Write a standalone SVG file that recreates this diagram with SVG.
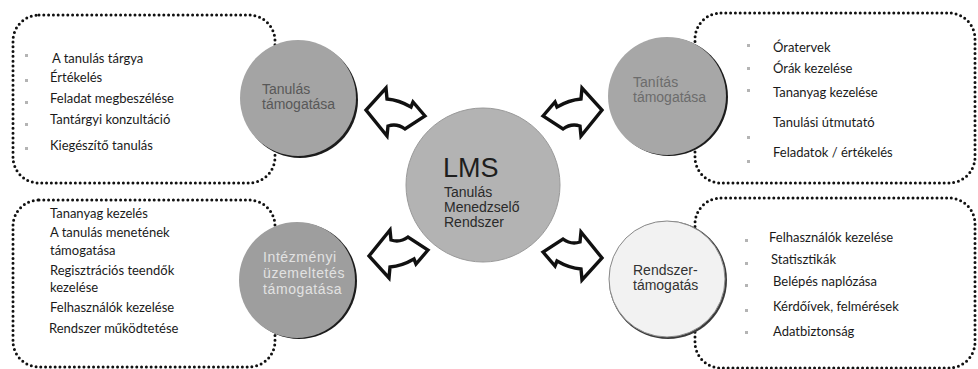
<svg xmlns="http://www.w3.org/2000/svg" width="978" height="369" viewBox="0 0 978 369">
<style>
.box{fill:none;stroke:#111;stroke-width:3;stroke-dasharray:0 4.8;stroke-linecap:round}
.li{font-family:Lato,"Liberation Sans",sans-serif;font-size:13px;fill:#1a1a1a}
.bul{fill:#b4b4b4}
.cl{font-family:"Liberation Sans",Arial,sans-serif;font-size:14px}
.shadow{fill:#1c1c1c}
.arrow{fill:#fff;stroke:#111;stroke-width:3.4;stroke-linejoin:miter}
</style>
<defs>
<path id="arr" d="M0,28 L12,14 L14,19 Q26,12 38,11 L39,0 L59,22 L38,48 L37,38 Q28,35 20,41 Z"/>
</defs>
<rect width="978" height="369" fill="#fff"/>

<g id="box-tanulas">
<rect class="box" x="13" y="15" width="262" height="168" rx="26"/>
<rect class="bul" x="25" y="54" width="3" height="3"/>
<rect class="bul" x="25" y="79" width="3" height="3"/>
<rect class="bul" x="25" y="101" width="3" height="3"/>
<rect class="bul" x="25" y="123" width="3" height="3"/>
<rect class="bul" x="25" y="147" width="3" height="3"/>
<text class="li" x="52" y="63">A tanulás tárgya</text>
<text class="li" x="50" y="82">Értékelés</text>
<text class="li" x="50" y="103">Feladat megbeszélése</text>
<text class="li" x="50" y="124">Tantárgyi konzultáció</text>
<text class="li" x="50" y="150">Kiegészítő tanulás</text>
</g>

<g id="box-intezmenyi">
<rect class="box" x="13" y="200" width="262" height="167" rx="26"/>
<text class="li" x="50" y="218">Tananyag kezelés</text>
<text class="li" x="50" y="237">A tanulás menetének</text>
<text class="li" x="50" y="255">támogatása</text>
<text class="li" x="50" y="275">Regisztrációs teendők</text>
<text class="li" x="50" y="292">kezelése</text>
<text class="li" x="50" y="312">Felhasználók kezelése</text>
<text class="li" x="49" y="333">Rendszer működtetése</text>
</g>

<g id="box-tanitas">
<rect class="box" x="695" y="13" width="280" height="170" rx="26"/>
<rect class="bul" x="747" y="44" width="3" height="3"/>
<rect class="bul" x="747" y="67" width="3" height="3"/>
<rect class="bul" x="747" y="89" width="3" height="3"/>
<rect class="bul" x="747" y="136" width="3" height="3"/>
<rect class="bul" x="747" y="160" width="3" height="3"/>
<text class="li" x="773" y="52">Óratervek</text>
<text class="li" x="773" y="73">Órák kezelése</text>
<text class="li" x="773" y="97">Tananyag kezelése</text>
<text class="li" x="773" y="127">Tanulási útmutató</text>
<text class="li" x="773" y="157">Feladatok / értékelés</text>
</g>

<g id="box-rendszer">
<rect class="box" x="695" y="198" width="280" height="170" rx="26"/>
<rect class="bul" x="745" y="239" width="3" height="3"/>
<rect class="bul" x="745" y="262" width="3" height="3"/>
<rect class="bul" x="745" y="284" width="3" height="3"/>
<rect class="bul" x="745" y="309" width="3" height="3"/>
<rect class="bul" x="745" y="331" width="3" height="3"/>
<text class="li" x="769" y="242">Felhasználók kezelése</text>
<text class="li" x="771" y="264">Statisztikák</text>
<text class="li" x="773" y="286">Belépés naplózása</text>
<text class="li" x="773" y="311">Kérdőívek, felmérések</text>
<text class="li" x="773" y="336">Adatbiztonság</text>
</g>

<g id="tanulas">
<circle class="shadow" cx="300" cy="100" r="58"/>
<circle cx="298" cy="98" r="58" fill="#a4a4a4"/>
<text class="cl" fill="#585858"><tspan x="262" y="94">Tanulás</tspan><tspan x="262" y="109">támogatása</tspan></text>
</g>

<g id="intezmenyi">
<circle class="shadow" cx="299" cy="281" r="58"/>
<circle cx="297" cy="280" r="58" fill="#9e9e9e"/>
<text class="cl" fill="#e2e2e2" letter-spacing="0.6"><tspan x="263" y="262">Intézményi</tspan><tspan x="263" y="278">üzemeltetés</tspan><tspan x="263" y="294">támogatása</tspan></text>
</g>

<g id="tanitas">
<circle class="shadow" cx="669" cy="97" r="59"/>
<circle cx="667" cy="96" r="59" fill="#a7a7a7"/>
<text class="cl" fill="#6c6c6c"><tspan x="633" y="87">Tanítás</tspan><tspan x="633" y="102">támogatása</tspan></text>
</g>

<g id="rendszer">
<circle cx="668" cy="280" r="59" fill="#3a3a3a"/>
<circle cx="667" cy="279" r="58" fill="#f2f2f2" stroke="#8a8a8a" stroke-width="1"/>
<text class="cl" fill="#333"><tspan x="633" y="275">Rendszer-</tspan><tspan x="633" y="290">támogatás</tspan></text>
</g>

<g id="lms">
<circle cx="483" cy="185" r="77" fill="#b3b3b3" stroke="#9a9a9a" stroke-width="1"/>
<text font-family="Liberation Sans, Arial, sans-serif" font-size="27" fill="#1e1e1e" x="443" y="177">LMS</text>
<text class="cl" fill="#2a2a2a"><tspan x="444" y="197">Tanulás</tspan><tspan x="444" y="212">Menedzselő</tspan><tspan x="444" y="227">Rendszer</tspan></text>
</g>

<g id="connectors">
<use href="#arr" class="arrow" transform="translate(425,88) scale(-1,1)"/>
<use href="#arr" class="arrow" transform="translate(543,88)"/>
<use href="#arr" class="arrow" transform="translate(428,278) scale(-1,-1)"/>
<use href="#arr" class="arrow" transform="translate(543,280) scale(1,-1)"/>
</g>
</svg>
